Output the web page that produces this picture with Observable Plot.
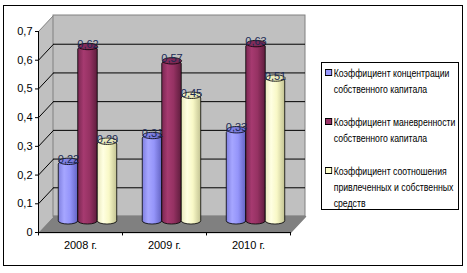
<!DOCTYPE html>
<html><head><meta charset="utf-8">
<script src="https://cdn.jsdelivr.net/npm/d3@7"></script>
<script src="https://cdn.jsdelivr.net/npm/@observablehq/plot@0.6"></script>
<style>
html,body{margin:0;padding:0;background:#fff;}
#wrap{position:relative;width:467px;height:273px;font-family:"Liberation Sans",Arial,sans-serif;}
#frame{position:absolute;left:3px;top:5px;width:458px;height:259px;border:1px solid #000;}
#chart{position:absolute;left:0;top:0;}
#legend{position:absolute;left:321px;top:62px;width:136px;height:146px;border:1px solid #000;background:#fff;font-size:11px;line-height:16px;color:#000;}
.item{position:absolute;left:3px;white-space:nowrap;transform:scaleX(0.79);transform-origin:0 0;}
.sw{display:inline-block;width:7px;height:5px;border:1px solid #000;margin-right:2px;vertical-align:1px;}
.cont{padding-left:11px;}
</style></head>
<body><div id="wrap"><div id="frame"></div><div id="chart"></div><div id="legend"></div></div>
<script>
const years = ["2008 г.", "2009 г.", "2010 г."];
const seriesNames = [
  ["Коэффициент концентрации", "собственного капитала"],
  ["Коэффициент маневренности", "собственного капитала"],
  ["Коэффициент соотношения", "привлеченных и собственных", "средств"]
];
const concentration = [0.22, 0.31, 0.33];
const maneuver = [0.62, 0.57, 0.63];
const ratio = [0.29, 0.45, 0.51];
const yTicks = [0, 0.1, 0.2, 0.3, 0.4, 0.5, 0.6, 0.7];
const colors = ["#9999ff", "#993366", "#ffffcc"];
const gradIds = ["gBlue", "gMaroon", "gYellow"];

const series = [concentration, maneuver, ratio];
const fmt = v => v === 0 ? "0" : String(v).replace(".", ",");
const DX = 0.1786, DY = 0.0557;
const BW = 0.232;
const bars = [];
series.forEach((vals, j) => vals.forEach((v, i) => {
  const c = i + 0.5 + DX / 2 + (j - 1) * BW;
  bars.push({j, i, v, x1: c - BW / 2, x2: c + BW / 2, c});
}));

const ellipse = {draw(ctx) {
  const a = 9.6, b = 3.2, k = 0.5523;
  ctx.moveTo(a, 0);
  ctx.bezierCurveTo(a, b * k, a * k, b, 0, b);
  ctx.bezierCurveTo(-a * k, b, -a, b * k, -a, 0);
  ctx.bezierCurveTo(-a, -b * k, -a * k, -b, 0, -b);
  ctx.bezierCurveTo(a * k, -b, a, -b * k, a, 0);
  ctx.closePath();
}};

const yMax = yTicks[yTicks.length - 1];
const sideWall = [{x: 0, y: 0}, {x: 0, y: yMax}, {x: DX, y: yMax + DY}, {x: DX, y: DY}];
const floorPts = [{x: 0, y: 0}, {x: 3, y: 0}, {x: 3 + DX, y: DY}, {x: DX, y: DY}];
const inner = yTicks.filter(v => v > 0 && v < yMax);
const font = '"Liberation Sans",Arial,sans-serif';

const marks = [
  Plot.line(sideWall, {x: "x", y: "y", fill: "#c0c0c0", stroke: "#808080", strokeWidth: 1}),
  Plot.rect([0], {x1: DX, x2: 3 + DX, y1: DY, y2: yMax + DY, fill: "#c0c0c0", stroke: "#808080"}),
  Plot.line(floorPts, {x: "x", y: "y", fill: "#808080", stroke: "#808080"}),
  Plot.ruleY(inner, {y: d => d + DY, x1: DX, x2: 3 + DX, stroke: "#000"}),
  Plot.link(inner, {x1: 0, y1: d => d, x2: DX, y2: d => d + DY, stroke: "#000"}),
  Plot.ruleX([0], {y1: 0, y2: yMax, stroke: "#000"}),
  Plot.ruleY([0], {x1: 0, x2: 3, stroke: "#000"}),
  Plot.ruleX([0, 1, 2, 3], {y1: 0, y2: -0.012, stroke: "#000"}),
  Plot.text(years, {x: (d, i) => i + 0.5, y: 0, dy: 13, text: d => d, fontSize: 11, fill: "#000"})
];
series.forEach((vals, j) => {
  const b = bars.filter(d => d.j === j);
  marks.push(Plot.rect(b, {x1: "x1", x2: "x2", y1: DY / 2, y2: d => d.v + DY / 2, fill: `url(#${gradIds[j]})`, stroke: "#000", strokeWidth: 0.8, rx: 9.6, ry: 3.2}));
  marks.push(Plot.dot(b, {x: "c", y: d => d.v + DY / 2, symbol: ellipse, fill: `url(#${gradIds[j]}T)`, stroke: "#000", strokeWidth: 0.8}));
});
marks.push(Plot.text(bars, {x: "c", y: d => d.v + DY / 2, dy: -2, text: d => fmt(d.v), fontSize: 11, fill: "#1a2a55"}));

const svg = Plot.plot({
  width: 467, height: 273,
  marginLeft: 38, marginRight: 177, marginTop: 31, marginBottom: 41,
  style: {fontFamily: font, fontSize: "11px", background: "transparent", color: "#000"},
  x: {domain: [0, 3], axis: null},
  y: {domain: [0, yMax], ticks: yTicks, tickFormat: fmt, tickSize: 3, tickPadding: 3, label: null},
  marks
});
const defs = `<defs>
<linearGradient id="gBlue" x1="0" x2="1" y1="0" y2="0"><stop offset="0" stop-color="#7f7fe0"/><stop offset="0.3" stop-color="#a6a6ff"/><stop offset="0.6" stop-color="#9595fa"/><stop offset="1" stop-color="#6363c2"/></linearGradient>
<linearGradient id="gMaroon" x1="0" x2="1" y1="0" y2="0"><stop offset="0" stop-color="#7a2852"/><stop offset="0.3" stop-color="#a63a70"/><stop offset="0.6" stop-color="#963263"/><stop offset="1" stop-color="#5e1d3d"/></linearGradient>
<linearGradient id="gYellow" x1="0" x2="1" y1="0" y2="0"><stop offset="0" stop-color="#e8e8bc"/><stop offset="0.3" stop-color="#ffffe2"/><stop offset="0.6" stop-color="#f8f8c6"/><stop offset="1" stop-color="#c2c292"/></linearGradient>
<linearGradient id="gBlueT" x1="0" x2="1"><stop offset="0" stop-color="#8a8aee"/><stop offset="1" stop-color="#7070d0"/></linearGradient>
<linearGradient id="gMaroonT" x1="0" x2="1"><stop offset="0" stop-color="#8c2e5c"/><stop offset="1" stop-color="#742650"/></linearGradient>
<linearGradient id="gYellowT" x1="0" x2="1"><stop offset="0" stop-color="#f2f2c4"/><stop offset="1" stop-color="#e0e0ae"/></linearGradient>
</defs>`;
svg.insertAdjacentHTML("afterbegin", defs);
document.getElementById("chart").appendChild(svg);

const legend = document.getElementById("legend");
const itemTops = [2, 51, 100];
seriesNames.forEach((lines, j) => {
  const div = document.createElement("div");
  div.className = "item";
  div.style.top = itemTops[j] + "px";
  div.innerHTML = lines.map((l, k) => k === 0
    ? `<div><span class="sw" style="background:${colors[j]}"></span>${l}</div>`
    : `<div class="cont">${l}</div>`).join("");
  legend.appendChild(div);
});
</script></body></html>
